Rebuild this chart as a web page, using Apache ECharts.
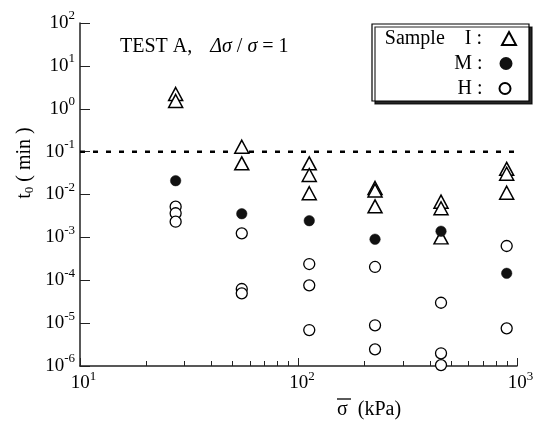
<!DOCTYPE html>
<html><head><meta charset="utf-8">
<script src="https://cdn.jsdelivr.net/npm/echarts@6/dist/echarts.min.js"></script>
<style>html,body{margin:0;padding:0;background:#fff}#c{width:548px;height:425px}</style>
</head><body><div id="c"></div>
<script>
// ---- data ----
const stressLevels = [27.4, 55, 112, 224, 449, 897];          // kPa (column positions)
const sampleI_stress = [27.4, 27.4, 55, 55, 112, 112, 112, 224, 224, 224, 449, 449, 449, 897, 897, 897];
const sampleI_t0     = [2.21, 1.52, 0.130, 0.0534, 0.0534, 0.0285, 0.0107, 0.0142, 0.0124, 0.0053, 0.0068, 0.00477, 0.00100, 0.0397, 0.0304, 0.0110];
const sampleM_stress = [27.4, 55, 112, 224, 449, 897];
const sampleM_t0     = [0.021, 0.00356, 0.00245, 0.000906, 0.00139, 0.000145];
const sampleH_stress = [27.4, 27.4, 27.4, 55, 55, 55, 112, 112, 112, 224, 224, 224, 449, 449, 449, 897, 897];
const sampleH_t0     = [5.19e-3, 3.65e-3, 2.32e-3, 1.24e-3, 6.25e-5, 4.96e-5, 2.39e-4, 7.62e-5, 6.9e-6, 2.04e-4, 8.9e-6, 2.45e-6, 2.99e-5, 1.98e-6, 1.05e-6, 6.3e-4, 7.57e-6];
const thresholdT0 = 0.1;
const xRange = [10, 1000];
const yRange = [1e-6, 100];
const legendLabels = { I: 'Sample    I :', M: 'M :', H: 'H :' };
const titleText = 'TEST A,';
const yName = ['t', '0', ' ( min )'];
const xName = 'σ  (kPa)';

const FONT = '"Liberation Serif", "Times New Roman", serif';
const zip = (xs, ys) => xs.map((x, i) => [x, ys[i]]);
const expOf = v => Math.round(Math.log10(v));

const chart = echarts.init(document.getElementById('c'), null, { renderer: 'canvas' });

const supRich = {
  b: { fontFamily: FONT, fontSize: 19, color: '#000' },
  s: { fontFamily: FONT, fontSize: 13, color: '#000', padding: [0, 0, 14, 0] },
  p: { fontFamily: FONT, fontSize: 13, width: 7 }
};

const option = {
  animation: false,
  backgroundColor: '#fff',
  grid: { left: 80, right: 31, top: 23, bottom: 59, containLabel: false },
  xAxis: {
    type: 'log', logBase: 10, min: xRange[0], max: xRange[1], interval: 1,
    axisLine: { lineStyle: { color: '#222', width: 1.5 } },
    axisTick: { inside: true, length: 8, lineStyle: { color: '#222', width: 1 } },
    minorTick: { show: true, splitNumber: 9, length: 5, lineStyle: { color: '#222', width: 1 } },
    splitLine: { show: false },
    axisLabel: {
      margin: 4,
      formatter: v => '{p| }{b|10}{s|' + expOf(v) + '}',
      rich: supRich
    }
  },
  yAxis: {
    type: 'log', logBase: 10, min: yRange[0], max: yRange[1], interval: 1,
    axisLine: { lineStyle: { color: '#222', width: 1.5 } },
    axisTick: { inside: true, length: 10, lineStyle: { color: '#222', width: 1 } },
    splitLine: { show: false },
    axisLabel: {
      margin: 5,
      formatter: v => '{b|10}{s|' + expOf(v) + '}',
      rich: supRich
    }
  },
  legend: [
    { data: ['I'], orient: 'vertical', align: 'right', right: 31, top: 28.5, padding: 0,
      itemWidth: 14, itemHeight: 13, formatter: () => '{a|' + legendLabels.I + '}',
      textStyle: { rich: { a: { fontFamily: FONT, fontSize: 20, color: '#000', padding: [0, 15, 0, 0] } } }, z: 5 },
    { data: ['M'], orient: 'vertical', align: 'right', right: 35.5, top: 53.5, padding: 0,
      itemWidth: 11, itemHeight: 11, formatter: () => '{a|' + legendLabels.M + '}',
      textStyle: { rich: { a: { fontFamily: FONT, fontSize: 20, color: '#000', padding: [0, 13, 0, 0] } } }, z: 5 },
    { data: ['H'], orient: 'vertical', align: 'right', right: 36.5, top: 78.5, padding: 0,
      itemWidth: 11, itemHeight: 11, formatter: () => '{a|' + legendLabels.H + '}',
      textStyle: { rich: { a: { fontFamily: FONT, fontSize: 20, color: '#000', padding: [0, 12, 0, 0] } } }, z: 5 }
  ],
  graphic: [
    { type: 'rect', z: 1, shape: { x: 372, y: 24, width: 157, height: 77 },
      style: { fill: '#fff', stroke: '#000', lineWidth: 1.2, shadowColor: 'rgba(0,0,0,0.85)', shadowOffsetX: 3, shadowOffsetY: 3, shadowBlur: 0 } },
    { type: 'text', z: 5, x: 120, y: 47,
      style: { text: '{n|' + titleText + '}{sp| }{i|Δσ}{n| / }{i|σ}{n| = 1}', verticalAlign: 'middle',
        rich: { n: { fontFamily: FONT, fontSize: 20, fill: '#000' },
                sp: { fontFamily: FONT, fontSize: 20, width: 18 },
                i: { fontFamily: FONT, fontSize: 20, fontStyle: 'italic', fill: '#000' } } } },
    { type: 'text', z: 5, x: 25, y: 163, rotation: Math.PI / 2,
      style: { text: '{a|' + yName[0] + '}{b|' + yName[1] + '}{a|' + yName[2] + '}', align: 'center', verticalAlign: 'middle',
        rich: { a: { fontFamily: FONT, fontSize: 20, fill: '#000' },
                b: { fontFamily: FONT, fontSize: 13, fill: '#000', padding: [9, 0, 0, 0] } } } },
    { type: 'text', z: 5, x: 337, y: 410,
      style: { text: xName, verticalAlign: 'middle', fontFamily: FONT, fontSize: 20, fill: '#000' } },
    { type: 'line', z: 5, shape: { x1: 337, y1: 399, x2: 351, y2: 399 }, style: { stroke: '#000', lineWidth: 1.3 } }
  ],
  series: [
    { name: 'limit', type: 'line', silent: true, symbol: 'none', z: 1,
      data: [[xRange[0], thresholdT0], [xRange[1], thresholdT0]],
      lineStyle: { color: '#000', width: 2.5, type: [5, 8] } },
    { name: 'I', type: 'scatter', symbol: 'triangle', symbolSize: [14, 13], clip: false, z: 3,
      data: zip(sampleI_stress, sampleI_t0),
      itemStyle: { color: '#fff', borderColor: '#000', borderWidth: 1.5, opacity: 1 } },
    { name: 'M', type: 'scatter', symbol: 'circle', symbolSize: 10.5, clip: false, z: 4,
      data: zip(sampleM_stress, sampleM_t0),
      itemStyle: { color: '#111', borderColor: '#111', borderWidth: 0.5, opacity: 1 } },
    { name: 'H', type: 'scatter', symbol: 'circle', symbolSize: 11, clip: false, z: 4,
      data: zip(sampleH_stress, sampleH_t0),
      itemStyle: { color: '#fff', borderColor: '#000', borderWidth: 1.3, opacity: 1 } }
  ]
};
chart.setOption(option);
</script>
</body></html>
